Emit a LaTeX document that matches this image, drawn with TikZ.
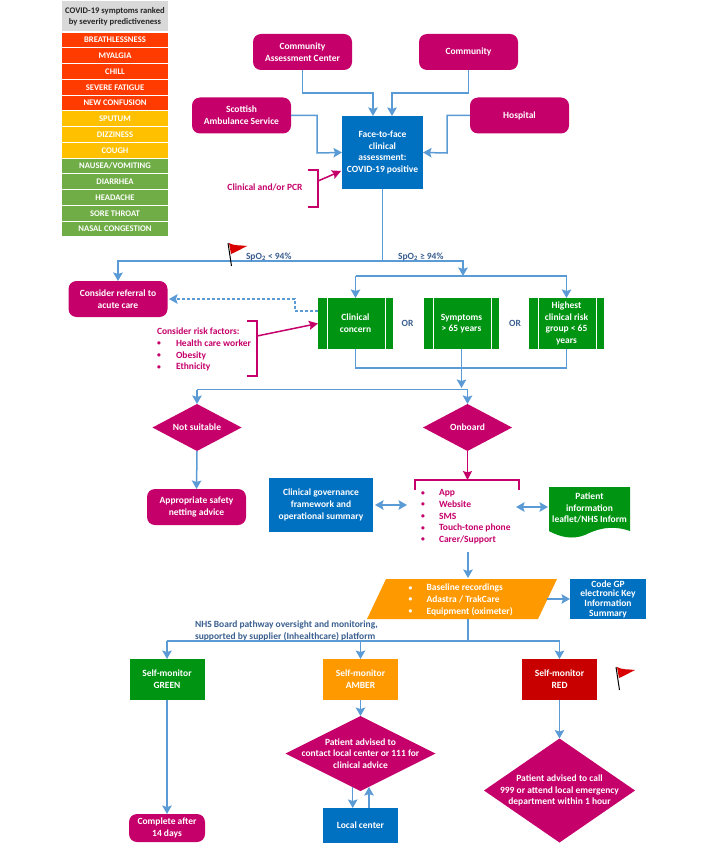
\documentclass[tikz,border=0pt]{standalone}
\usepackage{fontspec}
\setmainfont{Carlito}
\usetikzlibrary{arrows.meta,positioning,calc,shapes.geometric}
\definecolor{plum}{HTML}{C5006A}
\definecolor{nhsblue}{HTML}{0070C0}
\definecolor{boxgreen}{HTML}{009413}
\definecolor{boxorange}{HTML}{FF9900}
\definecolor{boxred}{HTML}{C80000}
\definecolor{linkblue}{HTML}{5B9BD5}
\definecolor{notetext}{HTML}{3A5F8F}
\definecolor{rankred}{HTML}{FF3B00}
\definecolor{rankamber}{HTML}{FFC000}
\definecolor{rankgreen}{HTML}{70AD47}
\tikzset{
  txt/.style={font=\fontsize{9.5}{11.7}\selectfont\bfseries,align=center,inner sep=0pt,outer sep=0pt},
  whitetxt/.style={txt,text=white},
  rounded/.style={whitetxt,fill=plum,rounded corners=8pt,minimum width=99,minimum height=36},
  plain/.style={whitetxt,minimum width=75,minimum height=41},
  bluebox/.style={plain,fill=nhsblue},
  predef/.style={plain,fill=boxgreen,minimum height=51},
  dia/.style={shape=diamond,fill=plum,inner sep=0pt,outer sep=0pt},
  dialabel/.style={whitetxt,label distance=0pt},
  rank/.style={whitetxt,minimum width=106,minimum height=14.8,font=\fontsize{8.6}{10}\selectfont\bfseries},
  link/.style={draw=linkblue,line width=1.5pt,-{Stealth[length=8.5pt,width=9.5pt,inset=1.5pt]}},
  linkline/.style={draw=linkblue,line width=1.5pt},
  twoway/.style={draw=linkblue,line width=1.5pt,{Stealth[length=8.5pt,width=9.5pt,inset=1.5pt]}-{Stealth[length=8.5pt,width=9.5pt,inset=1.5pt]}},
  bracket/.style={draw=plum,line width=1.2pt},
  plumlink/.style={draw=plum,line width=1.5pt,-{Stealth[length=9pt,width=9pt,inset=1.5pt]}},
  plumtxt/.style={txt,text=plum,align=left},
  note/.style={txt,text=notetext,align=left},
}
\newcommand{\listitem}[2][18pt]{\makebox[#1][l]{\raisebox{.5pt}{\scalebox{.8}{•}}}#2}
\newcommand{\redflag}[1]{%
  \draw[black,line width=1pt] ($(#1)+(0,0)$) -- ($(#1)+(3.5,23)$);
  \fill[red!85!black] ($(#1)+(1,0)$) .. controls ($(#1)+(6,3)$) and ($(#1)+(12,2)$) .. ($(#1)+(19,3)$)
    .. controls ($(#1)+(13,6)$) and ($(#1)+(8,9)$) .. ($(#1)+(3,11)$) -- cycle;}
\begin{document}
\begin{tikzpicture}[x=1pt,y=-1pt]
  \useasboundingbox (0,0) rectangle (708,850);
  % severity table
  \node[txt,font=\fontsize{8.6}{10.8}\selectfont\bfseries,fill=black!15,text=black!85,minimum width=106,minimum height=30] (rankhead) at (115,16.5)
    {COVID-19 symptoms ranked\\by severity predictiveness};
  \foreach \i/\name/\col in {0/BREATHLESSNESS/rankred,1/MYALGIA/rankred,2/CHILL/rankred,3/SEVERE FATIGUE/rankred,
    4/NEW CONFUSION/rankred,5/SPUTUM/rankamber,6/DIZZINESS/rankamber,7/COUGH/rankamber,
    8/NAUSEA\slash VOMITING/rankgreen,9/DIARRHEA/rankgreen,10/HEADACHE/rankgreen,
    11/SORE THROAT/rankgreen,12/NASAL CONGESTION/rankgreen}
    \node[rank,fill=\col] (rank\i) at (115,{40+15.75*\i}) {\name};
  % entry points
  \node[rounded] (cac) at (302.5,52) {Community\\Assessment Center};
  \node[rounded] (comm) at (468.5,52) {Community};
  \node[rounded] (amb) at (241.5,115.5) {Scottish\\Ambulance Service};
  \node[rounded] (hosp) at (519.5,115.5) {Hospital};
  \node[whitetxt,fill=nhsblue,minimum width=81,minimum height=73] (face) at (382.5,152.5)
    {Face-to-face\\clinical\\assessment:\\COVID-19 positive};
  \coordinate (faceA) at (373,116);
  \coordinate (faceB) at (392,116);
  \draw[link] (cac.south) |- (373,93) -- (faceA);
  \draw[link] (comm.south) |- (392,93) -- (faceB);
  \draw[link] (amb.east) -| (317,153) -- (face.west);
  \draw[link] (hosp.west) -| (447,153) -- (face.east);
  \node[plumtxt] (pcr) at (265,187.5) {Clinical and/or PCR};
  \coordinate (pcrB) at (318,181);
  \draw[bracket] (308,170) -- (318,170) -- (318,207) -- (308,207);
  \draw[plumlink] (pcrB) -- (341,171);
  % oxygen split
  \coordinate (split) at (382.5,261);
  \draw[linkline] (face.south) -- (split);
  \node[rounded] (acute) at (118,299) {Consider referral to\\acute care};
  \draw[link] (split) -| (acute.north);
  \coordinate (yes) at (463,276);
  \draw[link] (split) -| (yes);
  \redflag{228,243}
  \node[note,anchor=west] (lowsat) at (246,256.5) {SpO\textsubscript{2} < 94\%};
  \node[note,anchor=west] (oksat) at (398,256.5) {SpO\textsubscript{2} ≥ 94\%};
  % criteria
  \node[predef] (concern) at (355.5,323.5) {Clinical\\concern};
  \node[predef] (sympt) at (461.5,323.5) {Symptoms\\> 65 years};
  \node[predef] (risk) at (566.5,323.5) {Highest\\clinical risk\\group < 65\\years};
  \foreach \b in {concern,sympt,risk} {
    \draw[white,line width=.8pt] ($(\b.north west)+(9,0)$) -- ($(\b.south west)+(9,0)$);
    \draw[white,line width=.8pt] ($(\b.north east)+(-8,0)$) -- ($(\b.south east)+(-8,0)$);
  }
  \node[note] (or1) at (407.5,323.5) {OR};
  \node[note] (or2) at (515,323.5) {OR};
  \draw[linkline] (yes) -- (yes -| concern);
  \draw[linkline] (yes) -- (yes -| risk);
  \draw[link] (yes -| concern) -- (concern.north);
  \draw[link] (yes -| risk) -- (risk.north);
  \coordinate (merge) at (461.5,368);
  \draw[linkline] (concern.south) |- (merge);
  \draw[linkline] (risk.south) |- (merge);
  \draw[link] (sympt.south) -- (461.5,388);
  \draw[link,dashed,dash pattern=on 3pt off 2pt] (318,311) -| (295,299) -- (169,299);
  \node[plumtxt,anchor=north west] (factors) at (157,328)
    {Consider risk factors:\\\listitem[19pt]{Health care worker}\\\listitem[19pt]{Obesity}\\\listitem[19pt]{Ethnicity}};
  \draw[bracket] (247,321) -- (257,321) -- (257,376) -- (247,376);
  \coordinate (factorsB) at (257,336);
  \draw[plumlink] (factorsB) -- (concern.west);
  % suitability
  \node[dia,minimum width=89,minimum height=47,label={[dialabel]center:{Not suitable}}] (unfit) at (197,427.5) {};
  \node[dia,minimum width=89,minimum height=47,label={[dialabel]center:{Onboard}}] (onb) at (467.5,427.5) {};
  \coordinate (fork) at (467.5,389.5);
  \draw[linkline] (fork) -- (197,389.5);
  \draw[link] (197,389.5) -- (unfit.north);
  \draw[link] (fork) -- (onb.north);
  \node[rounded] (safety) at (196.5,507) {Appropriate safety\\netting advice};
  \draw[link] (unfit.south) -- (safety.north);
  % onboarding
  \node[whitetxt,fill=nhsblue,minimum width=104,minimum height=54] (gov) at (321,505)
    {Clinical governance\\framework and\\operational summary};
  \node[plumtxt,anchor=north west] (channels) at (421,489.5)
    {\listitem{App}\\\listitem{Website}\\\listitem{SMS}\\\listitem{Touch-tone phone}\\\listitem{Carer/Support}};
  \coordinate (chanTop) at (467.5,480);
  \draw[bracket] (415,490) -- (415,480) -- (519,480) -- (519,490);
  \draw[plumlink] (onb.south) -- (chanTop);
  \coordinate (chanL) at (407,505);
  \coordinate (chanR) at (516,507);
  \draw[twoway] (375,505) -- (chanL);
  \fill[boxgreen] (549,487) -- (630,487) -- (630,531)
    .. controls (610,524) and (595,530) .. (585,535) .. controls (572,540) and (560,537) .. (549,531) -- cycle;
  \node[whitetxt] (leaflet) at (589.5,508) {Patient\\information\\leaflet/NHS Inform};
  \draw[twoway] (chanR) -- (548,507);
  % baseline
  \fill[boxorange] (386,579) -- (557,579) -- (538,619) -- (367,619) -- cycle;
  \node[whitetxt,align=left,anchor=north west] (base) at (408.5,584)
    {\listitem{Baseline recordings}\\\listitem{Adastra / TrakCare}\\\listitem{Equipment (oximeter)}};
  \coordinate (baseTop) at (468,578);
  \coordinate (baseBot) at (468,619);
  \coordinate (baseR) at (547,599);
  \draw[link] (468,552) -- (baseTop);
  \node[bluebox,font=\fontsize{9.5}{9.7}\selectfont\bfseries,minimum width=76,minimum height=40] (code) at (608,599)
    {Code GP\\electronic Key\\Information\\Summary};
  \draw[link] (baseR) -- (code.west);
  \node[note,anchor=north west] (oversight) at (195,621)
    {NHS Board pathway oversight and monitoring,\\supported by supplier (Inhealthcare) platform};
  % monitoring
  \node[plain,fill=boxgreen] (green) at (167,679.5) {Self-monitor\\GREEN};
  \node[plain,fill=boxorange] (amber) at (360.5,679.5) {Self-monitor\\AMBER};
  \node[plain,fill=boxred] (redbox) at (559.5,679.5) {Self-monitor\\RED};
  \redflag{616,667}
  \coordinate (bus) at (468,641);
  \draw[linkline] (baseBot) -- (bus);
  \draw[linkline] (green |- bus) -- (redbox |- bus);
  \foreach \b in {green,amber,redbox}
    \draw[link] (\b |- bus) -- (\b.north);
  \node[rounded,minimum width=76,minimum height=28] (done) at (167,828) {Complete after\\14 days};
  \draw[link] (green.south) -- (done.north);
  \node[dia,minimum width=150,minimum height=75,
    label={[dialabel]center:{Patient advised to\\contact local center or 111 for\\clinical advice}}] (advice) at (360.5,753.5) {};
  \draw[link] (amber.south) -- (advice.north);
  \node[bluebox,minimum height=35] (local) at (360.5,825.5) {Local center};
  \coordinate (adviceL) at (352.7,787);
  \coordinate (adviceR) at (369,787);
  \draw[link] (adviceL) -- (adviceL |- local.north);
  \draw[link] (adviceR |- local.north) -- (adviceR);
  \node[dia,minimum width=151,minimum height=104,
    label={[dialabel]center:{Patient advised to call\\999 or attend local emergency\\department within 1 hour}}] (urgent) at (559.5,790.5) {};
  \draw[link] (redbox.south) -- (urgent.north);
\end{tikzpicture}
\end{document}
